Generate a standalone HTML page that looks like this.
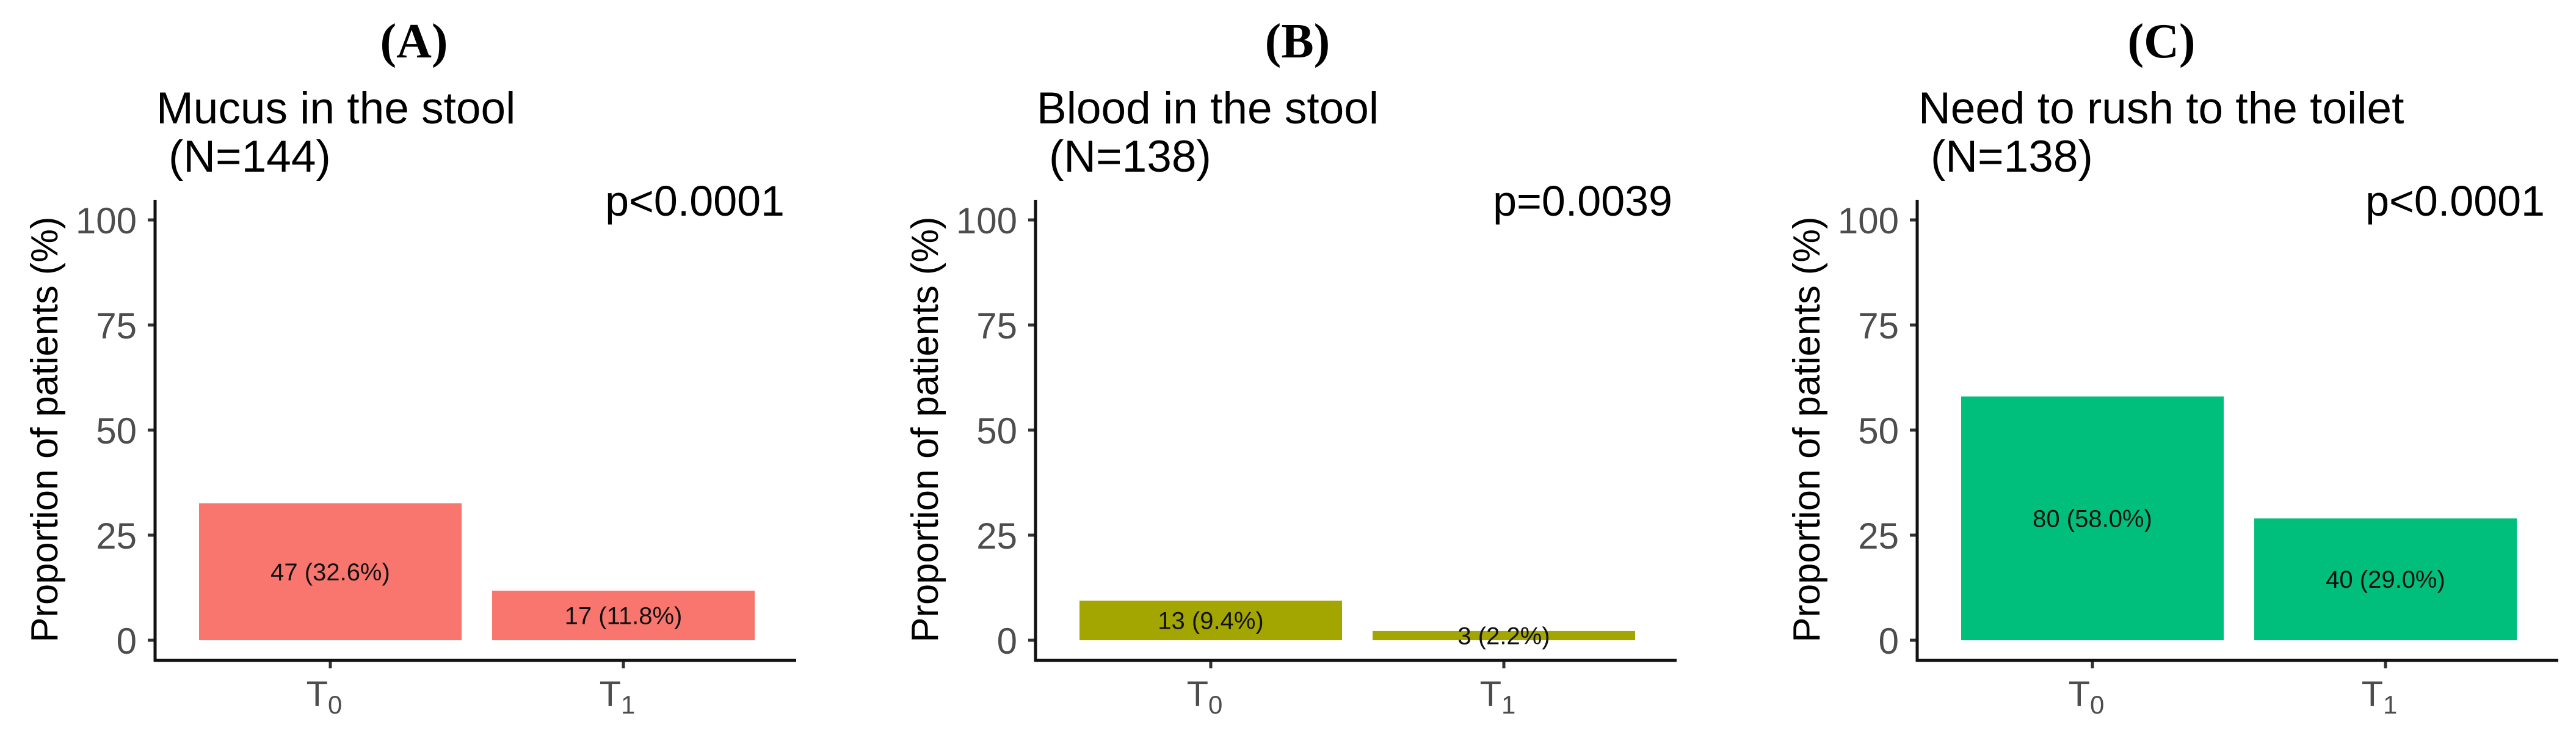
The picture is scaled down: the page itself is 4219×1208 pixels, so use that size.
<!DOCTYPE html>
<html><head><meta charset="utf-8"><style>
html,body{margin:0;padding:0;background:#fff;}
svg{display:block;font-family:"Liberation Sans",sans-serif;}
</style></head><body>
<svg id="fig" width="4219" height="1208" viewBox="0 0 4219 1208" xmlns="http://www.w3.org/2000/svg"></svg>
<script>
const panelLetters = ["(A)", "(B)", "(C)"];
const panelTitles = ["Mucus in the stool", "Blood in the stool", "Need to rush to the toilet"];
const panelNs = ["(N=144)", "(N=138)", "(N=138)"];
const pValues = ["p<0.0001", "p=0.0039", "p<0.0001"];
const categories = ["0", "1"];
const seriesA = [32.6, 11.8];
const seriesB = [9.4, 2.2];
const seriesC = [58.0, 29.0];
const countsA = [47, 17];
const countsB = [13, 3];
const countsC = [80, 40];
const yTicks = [0, 25, 50, 75, 100];

const NS = "http://www.w3.org/2000/svg";
const svg = document.getElementById("fig");
function mk(tag, attrs, parent) {
  const e = document.createElementNS(NS, tag);
  for (const k in attrs) e.setAttribute(k, attrs[k]);
  (parent || svg).appendChild(e);
  return e;
}
const axisXs = [254, 1696, 3140];
const letterCx = [678, 2125, 3540];
const pRight = [1285, 2739, 4168];
const colors = ["#F8766D", "#A3A500", "#00BF7D"];
const allSeries = [seriesA, seriesB, seriesC];
const allCounts = [countsA, countsB, countsC];
const names = ["a", "b", "c"];
const y0 = 1048, y100 = 360, axisTop = 327, axisBottom = 1081, plotW = 1050;
function yScale(v) { return y0 - (y0 - y100) * v / 100; }
function xScale(ax, i) { return ax + 72 + 215 + i * 480; }
const barW = 430;

for (let p = 0; p < 3; p++) {
  const ax = axisXs[p];
  const g = mk("g", {});
  
  

  const L = mk("text", {x: letterCx[p], y: 94, "text-anchor": "middle", "font-family": "Liberation Serif, serif", "font-weight": "bold", "font-size": 80, fill: "#000"}, g);
  L.textContent = panelLetters[p];
  
  

  const t1 = mk("text", {x: ax + 2, y: 202, "font-size": 73, fill: "#000"}, g);
  t1.textContent = panelTitles[p];
  
  
  const t2 = mk("text", {x: ax + 22, y: 281, "font-size": 73, fill: "#000"}, g);
  t2.textContent = panelNs[p];
  
  

  const pv = mk("text", {x: pRight[p], y: 353, "text-anchor": "end", "font-size": 70, fill: "#000"}, g);
  pv.textContent = pValues[p];
  
  

  const yt = mk("text", {transform: `translate(${ax - 160},703) rotate(-90)`, "text-anchor": "middle", "font-size": 62, fill: "#000", textLength: 697, lengthAdjust: "spacingAndGlyphs"}, g);
  yt.textContent = "Proportion of patients (%)";
  
  

  const vals = allSeries[p], cnts = allCounts[p];
  for (let i = 0; i < vals.length; i++) {
    const cx = xScale(ax, i);
    const r = mk("rect", {x: cx - barW / 2, y: yScale(vals[i]), width: barW, height: y0 - yScale(vals[i]), fill: colors[p]}, g);
    
    
    const bl = mk("text", {x: cx, y: yScale(vals[i] / 2) + 14, "text-anchor": "middle", "font-size": 40, fill: "#111"}, g);
    bl.textContent = cnts[i] + " (" + vals[i].toFixed(1) + "%)";
    
    
    const xt = mk("line", {x1: cx, x2: cx, y1: axisBottom, y2: axisBottom + 13, stroke: "#333", "stroke-width": 5}, g);
    
    
    const xl = mk("text", {x: cx - 10, y: 1156, "text-anchor": "middle", "font-size": 58, fill: "#4d4d4d"}, g);
    
    
    const tT = mk("tspan", {}, xl); tT.textContent = "T";
    const tS = mk("tspan", {"font-size": 42, dy: 12}, xl); tS.textContent = categories[i];
  }

  for (const v of yTicks) {
    const y = yScale(v);
    const tk = mk("line", {x1: ax - 12, x2: ax, y1: y, y2: y, stroke: "#333", "stroke-width": 5}, g);
    
    
    const tl = mk("text", {x: ax - 30, y: y + 22, "text-anchor": "end", "font-size": 60, fill: "#4d4d4d"}, g);
    tl.textContent = v;
    
    
  }

  const ya = mk("line", {x1: ax, x2: ax, y1: axisTop, y2: axisBottom + 2, stroke: "#111", "stroke-width": 5}, g);
  
  
  const xa = mk("line", {x1: ax - 2, x2: ax + plotW, y1: axisBottom, y2: axisBottom, stroke: "#111", "stroke-width": 5}, g);
  
  
}
</script>
</body></html>
